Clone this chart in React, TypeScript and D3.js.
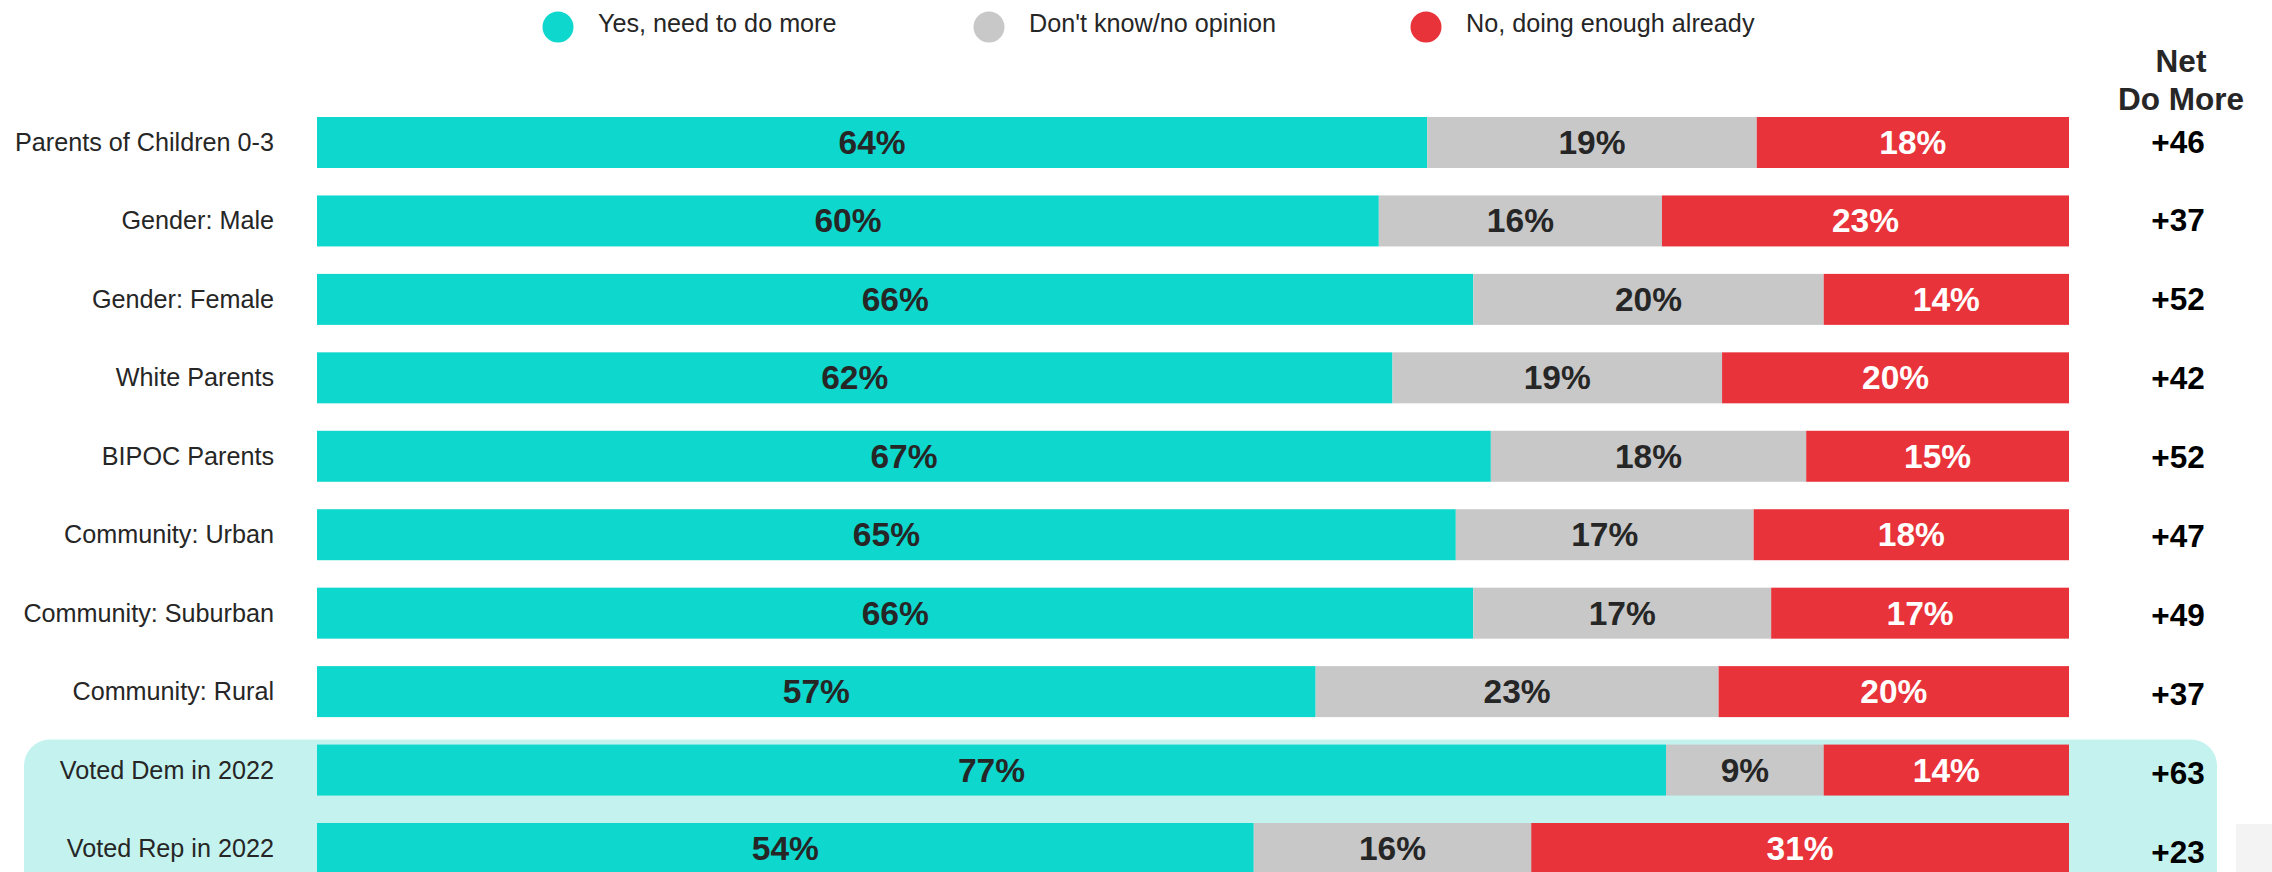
import React from "react";
import * as d3 from "d3";

const categories = [
  "Parents of Children 0-3",
  "Gender: Male",
  "Gender: Female",
  "White Parents",
  "BIPOC Parents",
  "Community: Urban",
  "Community: Suburban",
  "Community: Rural",
  "Voted Dem in 2022",
  "Voted Rep in 2022",
];
const yesMore = [64, 60, 66, 62, 67, 65, 66, 57, 77, 54];
const dontKnow = [19, 16, 20, 19, 18, 17, 17, 23, 9, 16];
const noEnough = [18, 23, 14, 20, 15, 18, 17, 20, 14, 31];
const netDoMore = ["+46", "+37", "+52", "+42", "+52", "+47", "+49", "+37", "+63", "+23"];
const seriesNames = ["Yes, need to do more", "Don't know/no opinion", "No, doing enough already"];
const seriesColors = ["#0ed7cd", "#c8c8c8", "#e9333a"];
const labelColors = ["#262626", "#262626", "#ffffff"];
const highlighted = ["Voted Dem in 2022", "Voted Rep in 2022"];

const W = 2272;
const H = 872;
const FONT = "'Liberation Sans', Arial, sans-serif";

export default function App() {
  const series = [yesMore, dontKnow, noEnough];
  const x = d3.scaleLinear().domain([0, 1]).range([317, 2069]);
  const y = d3
    .scaleBand<string>()
    .domain(categories)
    .range([117, 874])
    .paddingInner(0.35)
    .paddingOuter(0)
    .align(0);
  const yNet = d3.scalePoint<string>().domain(categories).range([142, 852]);

  const hlTop = (y(highlighted[0]) ?? 0) - 5;

  return (
    <svg
      width={W}
      height={H}
      style={{ position: "absolute", left: 0, top: 0, display: "block" }}
      fontFamily={FONT}
    >
      <rect x={0} y={0} width={W} height={H} fill="#ffffff" />
      <rect x={24} y={hlTop} width={2217 - 24} height={H - hlTop + 40} rx={26} ry={26} fill="#c4f3ef" />
      <rect x={2236} y={824} width={36} height={48} fill="#f3f3f3" />

      {/* Legend */}
      {seriesNames.map((name, i) => {
        const cx = [558, 989, 1426][i];
        return (
          <g key={name}>
            <circle cx={cx} cy={27} r={15.5} fill={seriesColors[i]} />
            <text x={cx + 40} y={32} fontSize={25.2} fill="#262626">
              {name}
            </text>
          </g>
        );
      })}

      {/* Net header */}
      <text x={2181} y={72} fontSize={31.5} fontWeight="bold" fill="#262626" textAnchor="middle">
        Net
      </text>
      <text x={2181} y={110} fontSize={31.5} fontWeight="bold" fill="#262626" textAnchor="middle">
        Do More
      </text>

      {categories.map((cat, r) => {
        const top = y(cat) ?? 0;
        const bh = y.bandwidth();
        const cy = top + bh / 2;
        const vals = series.map((s) => s[r]);
        const total = d3.sum(vals);
        let acc = 0;
        return (
          <g key={cat}>
            <text x={274} y={cy + 8.5} fontSize={25.2} fill="#262626" textAnchor="end">
              {cat}
            </text>
            {vals.map((v, k) => {
              const x0 = x(acc / total);
              acc += v;
              const x1 = x(acc / total);
              return (
                <g key={k}>
                  <rect x={x0} y={top} width={x1 - x0} height={bh} fill={seriesColors[k]} />
                  <text
                    x={(x0 + x1) / 2}
                    y={cy + 11.5}
                    fontSize={33.5}
                    fontWeight="bold"
                    fill={labelColors[k]}
                    textAnchor="middle"
                  >
                    {v}%
                  </text>
                </g>
              );
            })}
            <text
              x={2178}
              y={(yNet(cat) ?? 0) + 10.5}
              fontSize={31.5}
              fontWeight="bold"
              fill="#000000"
              textAnchor="middle"
            >
              {netDoMore[r]}
            </text>
          </g>
        );
      })}
    </svg>
  );
}
